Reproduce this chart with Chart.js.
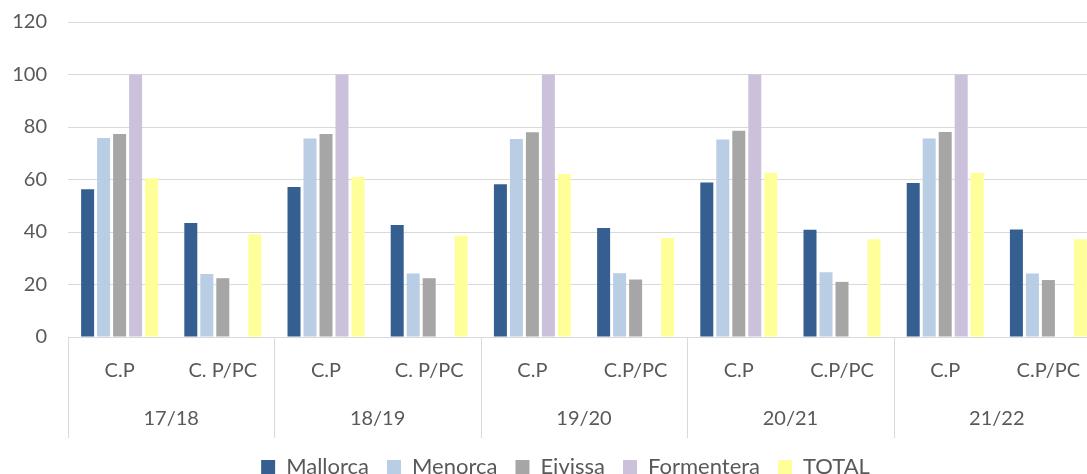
<!DOCTYPE html>
<html>
<head>
<meta charset="utf-8">
<script src="https://cdn.jsdelivr.net/npm/chart.js@4.4.1/dist/chart.umd.min.js"></script>
<style>
  html, body { margin: 0; padding: 0; overflow: hidden; background: #ffffff; width: 1087px; height: 474px; }
  canvas { display: block; }
</style>
</head>
<body>
<canvas id="c" width="1131" height="488"></canvas>
<script>
const years = ["17/18", "18/19", "19/20", "20/21", "21/22"];
const subLabels = ["C.P", "C. P/PC", "C.P", "C. P/PC", "C.P", "C.P/PC", "C.P", "C.P/PC", "C.P", "C.P/PC"];
const yTicks = [0, 20, 40, 60, 80, 100, 120];

const mallorca   = [56.3, 43.4, 57.1, 42.7, 58.2, 41.5, 58.9, 40.9, 58.7, 41.0];
const menorca    = [75.8, 24.0, 75.6, 24.2, 75.4, 24.3, 75.2, 24.7, 75.6, 24.2];
const eivissa    = [77.3, 22.4, 77.3, 22.4, 78.0, 21.9, 78.6, 21.0, 78.1, 21.7];
const formentera = [100, null, 100, null, 100, null, 100, null, 100, null];
const total      = [60.5, 39.1, 61.0, 38.6, 62.1, 37.7, 62.6, 37.2, 62.6, 37.2];

const seriesNames = ["Mallorca", "Menorca", "Eivissa", "Formentera", "TOTAL"];
const seriesColors = ["#355F91", "#B9CDE5", "#A6A6A6", "#CCC1DA", "#FFFF99"];
const seriesData = [mallorca, menorca, eivissa, formentera, total];

const txt = "#595959";
const gridCol = "#D9D9D9";
const fam = "Lato, 'Open Sans', sans-serif";

const separators = {
  id: "separators",
  afterDraw(chart) {
    const x = chart.scales.x;
    const x2 = chart.scales.x2;
    const ctx = chart.ctx;
    const groupW = x.width / years.length;
    ctx.save();
    ctx.strokeStyle = gridCol;
    ctx.lineWidth = 1;
    for (let g = 0; g <= years.length; g++) {
      const px = Math.round(x.left + g * groupW) + 0.5;
      ctx.beginPath();
      ctx.moveTo(px, x.top);
      ctx.lineTo(px, x2.bottom);
      ctx.stroke();
    }
    ctx.restore();
  }
};

new Chart(document.getElementById("c"), {
  type: "bar",
  data: {
    labels: subLabels,
    datasets: seriesNames.map((n, i) => ({
      label: n,
      data: seriesData[i],
      backgroundColor: seriesColors[i],
      borderWidth: 0,
      categoryPercentage: 0.775,
      barPercentage: 0.8125
    }))
  },
  options: {
    responsive: false,
    devicePixelRatio: 1,
    animation: false,
    layout: { padding: { top: 22, left: 0, right: 0, bottom: 0 } },
    plugins: {
      tooltip: { enabled: false },
      legend: {
        position: "bottom",
        labels: {
          boxWidth: 14,
          boxHeight: 14,
          padding: 18,
          color: txt,
          font: { family: fam, size: 22 }
        }
      }
    },
    scales: {
      y: {
        min: 0,
        max: 120,
        afterBuildTicks(s) { s.ticks = yTicks.map(v => ({ value: v })); },
        afterFit(s) { s.width = 68; s.paddingTop = 0; s.paddingBottom = 0; },
        ticks: { color: txt, font: { family: fam, size: 20 }, padding: 21 },
        grid: { color: gridCol, drawTicks: false, lineWidth: 1 },
        border: { display: false }
      },
      yr: {
        position: "right",
        display: true,
        afterFit(s) { s.width = 31; s.paddingTop = 0; s.paddingBottom = 0; },
        ticks: { display: false },
        grid: { display: false },
        border: { display: false }
      },
      x: {
        position: "bottom",
        offset: true,
        afterFit(s) { s.height = 52; },
        ticks: { color: txt, font: { family: fam, size: 20 }, padding: 14, maxRotation: 0, autoSkip: false },
        grid: { display: false },
        border: { display: true, color: gridCol, width: 1 }
      },
      x2: {
        type: "category",
        labels: years,
        position: "bottom",
        offset: true,
        afterFit(s) { s.height = 49; },
        ticks: { color: txt, font: { family: fam, size: 20 }, padding: 10, maxRotation: 0, autoSkip: false },
        grid: { display: false },
        border: { display: false }
      }
    }
  },
  plugins: [separators]
});
</script>
</body>
</html>
